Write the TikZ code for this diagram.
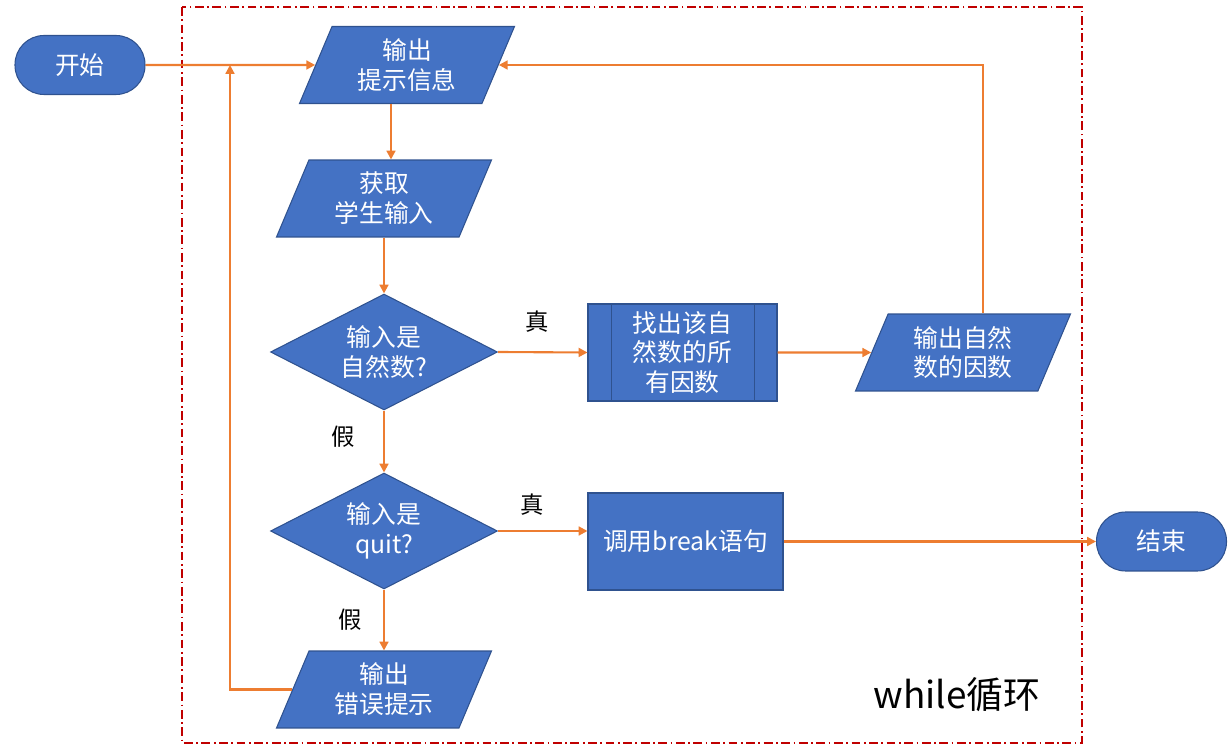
\documentclass[tikz,border=0pt]{standalone}
\usepackage{fontspec}
\setmainfont{Noto Sans CJK SC}
\usetikzlibrary{arrows.meta,shapes.geometric,calc}
\definecolor{boxfill}{HTML}{4472C4}
\definecolor{boxedge}{HTML}{2F528F}
\definecolor{flowline}{HTML}{ED7D31}
\definecolor{loopred}{HTML}{C00000}

\tikzset{
  base/.style={fill=boxfill,draw=boxedge,line width=0.6pt,text=white,
    font=\fontsize{14.1}{17}\selectfont,align=center,inner sep=1pt},
  term/.style={base,rectangle,rounded corners=0.58cm,minimum width=2.6cm,minimum height=1.18cm},
  io/.style={base,trapezium,trapezium left angle=60,trapezium right angle=120,
    trapezium stretches body,minimum width=4.3cm,minimum height=1.54cm},
  decide/.style={base,diamond,aspect=2,minimum width=4.54cm,minimum height=2.32cm,inner sep=0pt},
  proc/.style={base,rectangle,minimum height=1.94cm},
  flow/.style={flowline,line width=1.2pt,-{Triangle[length=5pt,width=5pt]}},
  tag/.style={font=\fontsize{13.3}{16}\selectfont,text=black},
}

\begin{document}
\begin{tikzpicture}[x=0.02cm,y=-0.02cm]
  \useasboundingbox (0,0) rectangle (1231,749);
  % while loop frame
  \draw[loopred,line width=1.1pt,dash pattern=on 5pt off 2pt on 1pt off 2pt]
    (182,7) rectangle (1082,743);
  \node[tag,font=\fontsize{21}{24}\selectfont] (looptag) at (957,695) {while循环};

  \node[term] (start) at (80,65) {开始};
  \node[io] (o1) at (407,65) {输出\\提示信息};
  \node[io] (in2) at (384,198.5) {获取\\学生输入};
  \node[decide] (d1) at (384,352) {输入是\\自然数?};
  \node[proc,minimum width=3.78cm] (proc) at (682.5,352.5) {找出该自\\然数的所\\有因数};
  \draw[boxedge,line width=0.6pt] ([xshift=0.48cm]proc.north west) -- ([xshift=0.48cm]proc.south west)
    ([xshift=-0.46cm]proc.north east) -- ([xshift=-0.46cm]proc.south east);
  \node[io] (o3) at (963,352.5) {输出自然\\数的因数};
  \node[decide] (d2) at (384,531) {输入是\\quit?};
  \node[proc,minimum width=3.9cm] (brk) at (685.5,541.5) {调用break语句};
  \node[term] (endn) at (1161.5,541.5) {结束};
  \node[io] (err) at (384,689.5) {输出\\错误提示};
  \coordinate (loop) at (230,65);

  % connectors
  \draw[flow] (start.east) -- (o1.west);
  \draw[flow] ([xshift=-0.32cm]o1.center |- o1.south) -- ([xshift=-0.32cm]o1.center |- in2.north);
  \draw[flow] (d1.north |- in2.south) -- (d1.north);
  \draw[flow] (d1.east) -- (proc.west);
  \draw[flow] (proc.east) -- (o3.west);
  \draw[flow] ([xshift=0.4cm]o3.center |- o3.north) |- (o1.east);
  \draw[flow] (d1.south) -- (d2.north);
  \draw[flow] (d2.east) -- (d2.east -| brk.west);
  \draw[flow] (brk.east) -- (endn.west);
  \draw[flow] (d2.south) -- (d2.south |- err.north);
  \draw[flow] (err.west) -| (loop);

  \node[tag] (t1) at (537,322) {真};
  \node[tag] (f1) at (343,437) {假};
  \node[tag] (t2) at (532,505) {真};
  \node[tag] (f2) at (350,620) {假};
\end{tikzpicture}
\end{document}
